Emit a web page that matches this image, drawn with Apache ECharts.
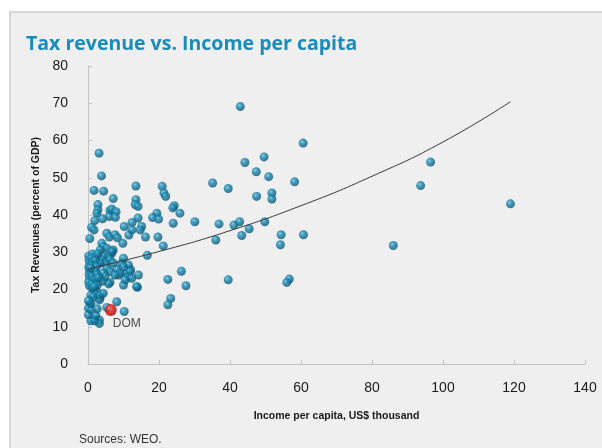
<!DOCTYPE html>
<html>
<head>
<meta charset="utf-8">
<script src="https://cdn.jsdelivr.net/npm/echarts@6/dist/echarts.min.js"></script>
<style>
  html, body { margin: 0; padding: 0; background: #fff; }
  #chart { width: 602px; height: 448px; }
</style>
</head>
<body>
<div id="chart"></div>
<script>
// income per capita (US$ thousand) and tax revenue (% of GDP)
const income = [
  42.9, 60.6, 44.2, 49.6, 47.4, 50.9, 20.9, 21.4, 21.9, 35.1, 39.5, 58.2, 47.5, 51.8, 51.8,
  24.3, 23.9, 25.9, 19.4, 18.2, 19.9, 24.0, 30.1, 36.9, 41.1, 42.7, 45.4, 49.8, 19.7, 21.2,
  36.0, 43.3, 54.4, 54.2, 60.7, 26.3, 22.5, 27.6, 39.5, 56.7, 56.0, 23.3, 22.5, 96.5, 93.7,
  119.0, 86.0, 3.1, 3.8, 1.7, 4.4, 13.5, 7.1, 2.8, 2.8, 2.5, 1.9, 4.1, 6.2, 6.7,
  6.0, 7.9, 7.7, 13.5, 13.3, 14.1, 14.1, 10.2, 12.4, 11.5, 12.4, 15.1, 14.7, 16.2, 0.5,
  5.3, 6.0, 7.6, 8.3, 9.8, 16.7, 13.9, 14.2, 10.9, 12.0, 11.4, 10.0, 6.2, 5.8, 9.5,
  11.4, 8.1, 9.0, 8.1, 5.3, 10.2, 3.2, 3.2, 1.5, 0.8, 1.9, 0.1, 0.6, 0.1, 1.0,
  0.8, 3.4, 3.2, 1.5, 2.5, 2.0, 0.8, 1.5, 6.7, 7.1, 5.7, 4.3, 3.9, 4.8, 3.4,
  6.2, 7.1, 3.9, 4.3, 5.3, 5.3, 6.2, 4.3, 4.8, 3.4, 3.9, 8.6, 7.6, 10.0, 10.0,
  11.8, 12.3, 10.5, 13.7, 1.0, 1.7, 3.4, 6.7, 3.4, 4.3, 0.2, 0.3, 0.5, 0.2, 0.4,
  0.3, 0.5, 0.2, 0.4, 1.2, 1.0, 1.3, 1.1, 1.4, 1.0, 1.2, 1.5, 1.1, 1.3, 2.2,
  2.0, 2.4, 2.1, 2.5, 2.2, 2.6, 2.8, 0.1, 2.2, 2.6, 0.7, 1.8, 2.9
];
const taxRevenue = [
  69.1, 59.3, 54.1, 55.6, 51.6, 50.3, 47.7, 45.9, 45.0, 48.6, 47.1, 48.9, 45.0, 45.9, 44.3,
  42.5, 41.9, 40.5, 40.5, 39.3, 38.9, 37.8, 38.2, 37.6, 37.3, 38.2, 36.3, 38.2, 34.1, 31.7,
  33.3, 34.5, 34.7, 32.0, 34.7, 24.9, 22.7, 21.0, 22.6, 22.8, 21.9, 17.6, 15.9, 54.2, 47.9,
  43.0, 31.8, 56.6, 50.5, 46.6, 46.4, 47.8, 44.4, 42.8, 41.4, 40.5, 38.5, 39.0, 41.2, 41.6,
  39.6, 40.9, 39.4, 44.1, 42.8, 42.3, 39.2, 36.9, 38.0, 34.6, 36.0, 36.9, 36.0, 34.1, 33.7,
  35.1, 34.1, 34.7, 33.9, 32.4, 29.2, 20.6, 23.9, 24.4, 25.3, 23.5, 21.2, 21.9, 21.5, 27.1,
  26.6, 25.4, 24.4, 16.7, 15.2, 14.1, 11.8, 10.9, 12.3, 11.6, 11.6, 13.2, 15.9, 15.0, 14.5,
  16.3, 17.7, 17.2, 19.9, 19.4, 19.0, 18.5, 18.1, 29.8, 30.6, 28.8, 29.0, 28.0, 27.1, 27.1,
  28.0, 27.1, 32.4, 31.5, 31.1, 25.7, 24.8, 24.4, 23.5, 23.1, 22.2, 23.9, 23.9, 28.4, 26.1,
  24.8, 23.0, 22.6, 20.8, 36.7, 36.0, 30.6, 30.2, 18.5, 19.0, 29.0, 28.0, 27.0, 26.0, 25.0,
  24.0, 23.0, 22.0, 21.0, 29.5, 28.5, 27.5, 26.5, 25.5, 24.5, 23.5, 22.5, 21.5, 20.5, 28.8,
  27.8, 26.2, 25.0, 24.0, 22.8, 21.2, 29.6, 17.0, 13.0, 14.8, 25.8, 20.8, 23.2
];
// Dominican Republic, highlighted
const domPoint = [6.4, 14.5];
// fitted trend curve
const trendX = [0, 20, 40, 60, 80, 100, 119];
const trendY = [25.5, 30.2, 35.8, 42.5, 50.4, 59.6, 70.4];

const blueBall = {
  type: 'radial', x: 0.38, y: 0.35, r: 0.7,
  colorStops: [
    { offset: 0, color: '#6cc6e3' },
    { offset: 0.35, color: '#1a88b0' },
    { offset: 1, color: '#0a4d69' }
  ]
};
const redBall = {
  type: 'radial', x: 0.38, y: 0.35, r: 0.7,
  colorStops: [
    { offset: 0, color: '#ff8f80' },
    { offset: 0.4, color: '#e8160c' },
    { offset: 1, color: '#8a0500' }
  ]
};

const axisFont = { fontFamily: 'Liberation Sans', fontSize: 14, color: '#1a1a1a' };

let myChart = echarts.init(document.getElementById('chart'));
let option = {
  animation: false,
  graphic: [
    {
      type: 'rect', z: -10, silent: true,
      shape: { x: 10, y: 12, width: 600, height: 445 },
      style: { fill: '#efefef', stroke: '#d6d6d6', lineWidth: 2 }
    },
    {
      type: 'text', left: 79, top: 434,
      style: { text: 'Sources: WEO.', fontFamily: 'Liberation Sans', fontSize: 12, fill: '#333' }
    }
  ],
  title: {
    text: 'Tax revenue vs. Income per capita',
    left: 21, top: 29,
    textStyle: { fontFamily: 'Open Sans', fontWeight: 'bold', fontSize: 19.5, color: '#1a8bbb' }
  },
  grid: { left: 88, right: 17, top: 66, bottom: 84 },
  xAxis: {
    type: 'value', min: 0, max: 140, interval: 20,
    name: 'Income per capita, US$ thousand',
    nameLocation: 'middle', nameGap: 47,
    nameTextStyle: { fontFamily: 'Liberation Sans', fontWeight: 'bold', fontSize: 10.5, color: '#1a1a1a' },
    axisLine: { lineStyle: { color: '#c4c4c4' } },
    axisTick: { show: true, inside: true, length: 4, lineStyle: { color: '#c4c4c4' } },
    axisLabel: Object.assign({ margin: 17 }, axisFont),
    splitLine: { show: false }
  },
  yAxis: {
    type: 'value', min: 0, max: 80, interval: 10,
    name: 'Tax Revenues (percent of GDP)',
    nameLocation: 'middle', nameGap: 45,
    nameTextStyle: { fontFamily: 'Liberation Sans', fontWeight: 'bold', fontSize: 10.5, color: '#1a1a1a' },
    axisLine: { show: true, lineStyle: { color: '#c4c4c4' } },
    axisTick: { show: true, inside: true, length: 4, lineStyle: { color: '#c4c4c4' } },
    axisLabel: Object.assign({ margin: 20 }, axisFont),
    splitLine: { show: false }
  },
  series: [
    {
      name: 'trend',
      type: 'line',
      smooth: true,
      symbol: 'none',
      data: trendX.map((x, i) => [x, trendY[i]]),
      lineStyle: { color: '#3a3a3a', width: 1 },
      z: 3
    },
    {
      name: 'countries',
      type: 'scatter',
      symbolSize: 9,
      data: income.map((x, i) => [x, taxRevenue[i]]),
      itemStyle: { color: blueBall },
      z: 2
    },
    {
      name: 'DOM',
      type: 'scatter',
      symbolSize: 12,
      data: [domPoint],
      itemStyle: { color: redBall },
      label: {
        show: true, formatter: 'DOM', position: 'bottom', offset: [16, -3],
        fontFamily: 'Liberation Sans', fontSize: 12, color: '#222'
      },
      z: 4
    }
  ]
};
myChart.setOption(option);
</script>
</body>
</html>
